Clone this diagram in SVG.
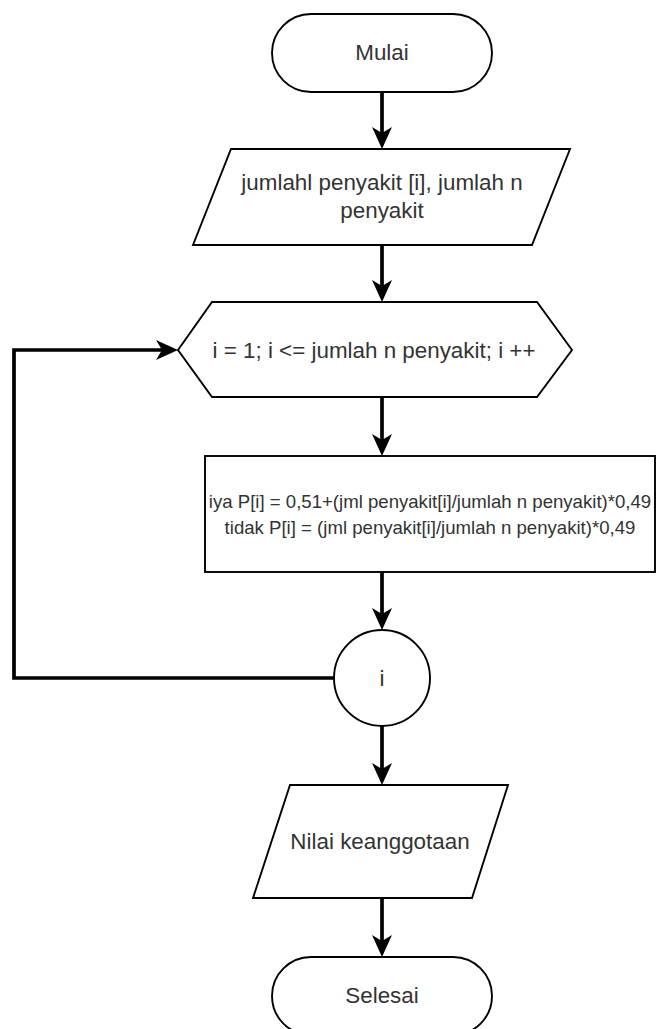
<svg xmlns="http://www.w3.org/2000/svg" width="664" height="1029" viewBox="0 0 664 1029">
<style>
.shape{fill:#fff;stroke:#000;stroke-width:1.9}
.lbl{font-family:"Liberation Sans",Arial,sans-serif;font-size:22.4px;fill:#333;text-anchor:middle}
.small{font-size:18.6px}
.edge{fill:none;stroke:#000;stroke-width:3.7}
</style>
<defs>
<marker id="arr" markerUnits="userSpaceOnUse" viewBox="0 0 22 20" refX="16" refY="10" markerWidth="22" markerHeight="20" orient="auto">
<path d="M0,0 L22,10 L0,20 L6,10 Z" fill="#000"/>
</marker>
</defs>
<rect width="664" height="1029" fill="#fff"/>
<g id="connectors">
<line class="edge" x1="382" y1="92" x2="382" y2="143" marker-end="url(#arr)"/>
<line class="edge" x1="382" y1="245" x2="382" y2="296" marker-end="url(#arr)"/>
<line class="edge" x1="382" y1="397" x2="382" y2="450" marker-end="url(#arr)"/>
<line class="edge" x1="382" y1="572" x2="382" y2="624" marker-end="url(#arr)"/>
<polyline class="edge" points="334,678 14,678 14,350 172,350" marker-end="url(#arr)"/>
<line class="edge" x1="382" y1="726" x2="382" y2="779" marker-end="url(#arr)"/>
<line class="edge" x1="382" y1="898" x2="382" y2="951" marker-end="url(#arr)"/>
</g>
<g id="start">
<rect class="shape" x="272" y="14" width="220" height="78" rx="39" ry="39"/>
<text class="lbl" x="382" y="60">Mulai</text>
</g>
<g id="input1">
<polygon class="shape" points="231,149 570,149 532,245 193,245"/>
<text class="lbl" x="382" y="190">jumlahl penyakit [i], jumlah n</text>
<text class="lbl" x="382" y="218">penyakit</text>
</g>
<g id="loop">
<polygon class="shape" points="178,350 212,302 537,302 572,350 537,397 212,397"/>
<text class="lbl" x="374" y="358">i = 1; i &lt;= jumlah n penyakit; i ++</text>
</g>
<g id="process">
<rect class="shape" x="205" y="456" width="450" height="116"/>
<text class="lbl small" x="430" y="508">iya P[i] = 0,51+(jml penyakit[i]/jumlah n penyakit)*0,49</text>
<text class="lbl small" x="430" y="534">tidak P[i] = (jml penyakit[i]/jumlah n penyakit)*0,49</text>
</g>
<g id="connector-i">
<circle class="shape" cx="382" cy="678" r="48"/>
<text class="lbl" x="382" y="686">i</text>
</g>
<g id="output">
<polygon class="shape" points="290,785 508,785 472,898 253,898"/>
<text class="lbl" x="380" y="849">Nilai keanggotaan</text>
</g>
<g id="end">
<rect class="shape" x="272" y="957" width="220" height="78" rx="39" ry="39"/>
<text class="lbl" x="382" y="1003">Selesai</text>
</g>
</svg>
